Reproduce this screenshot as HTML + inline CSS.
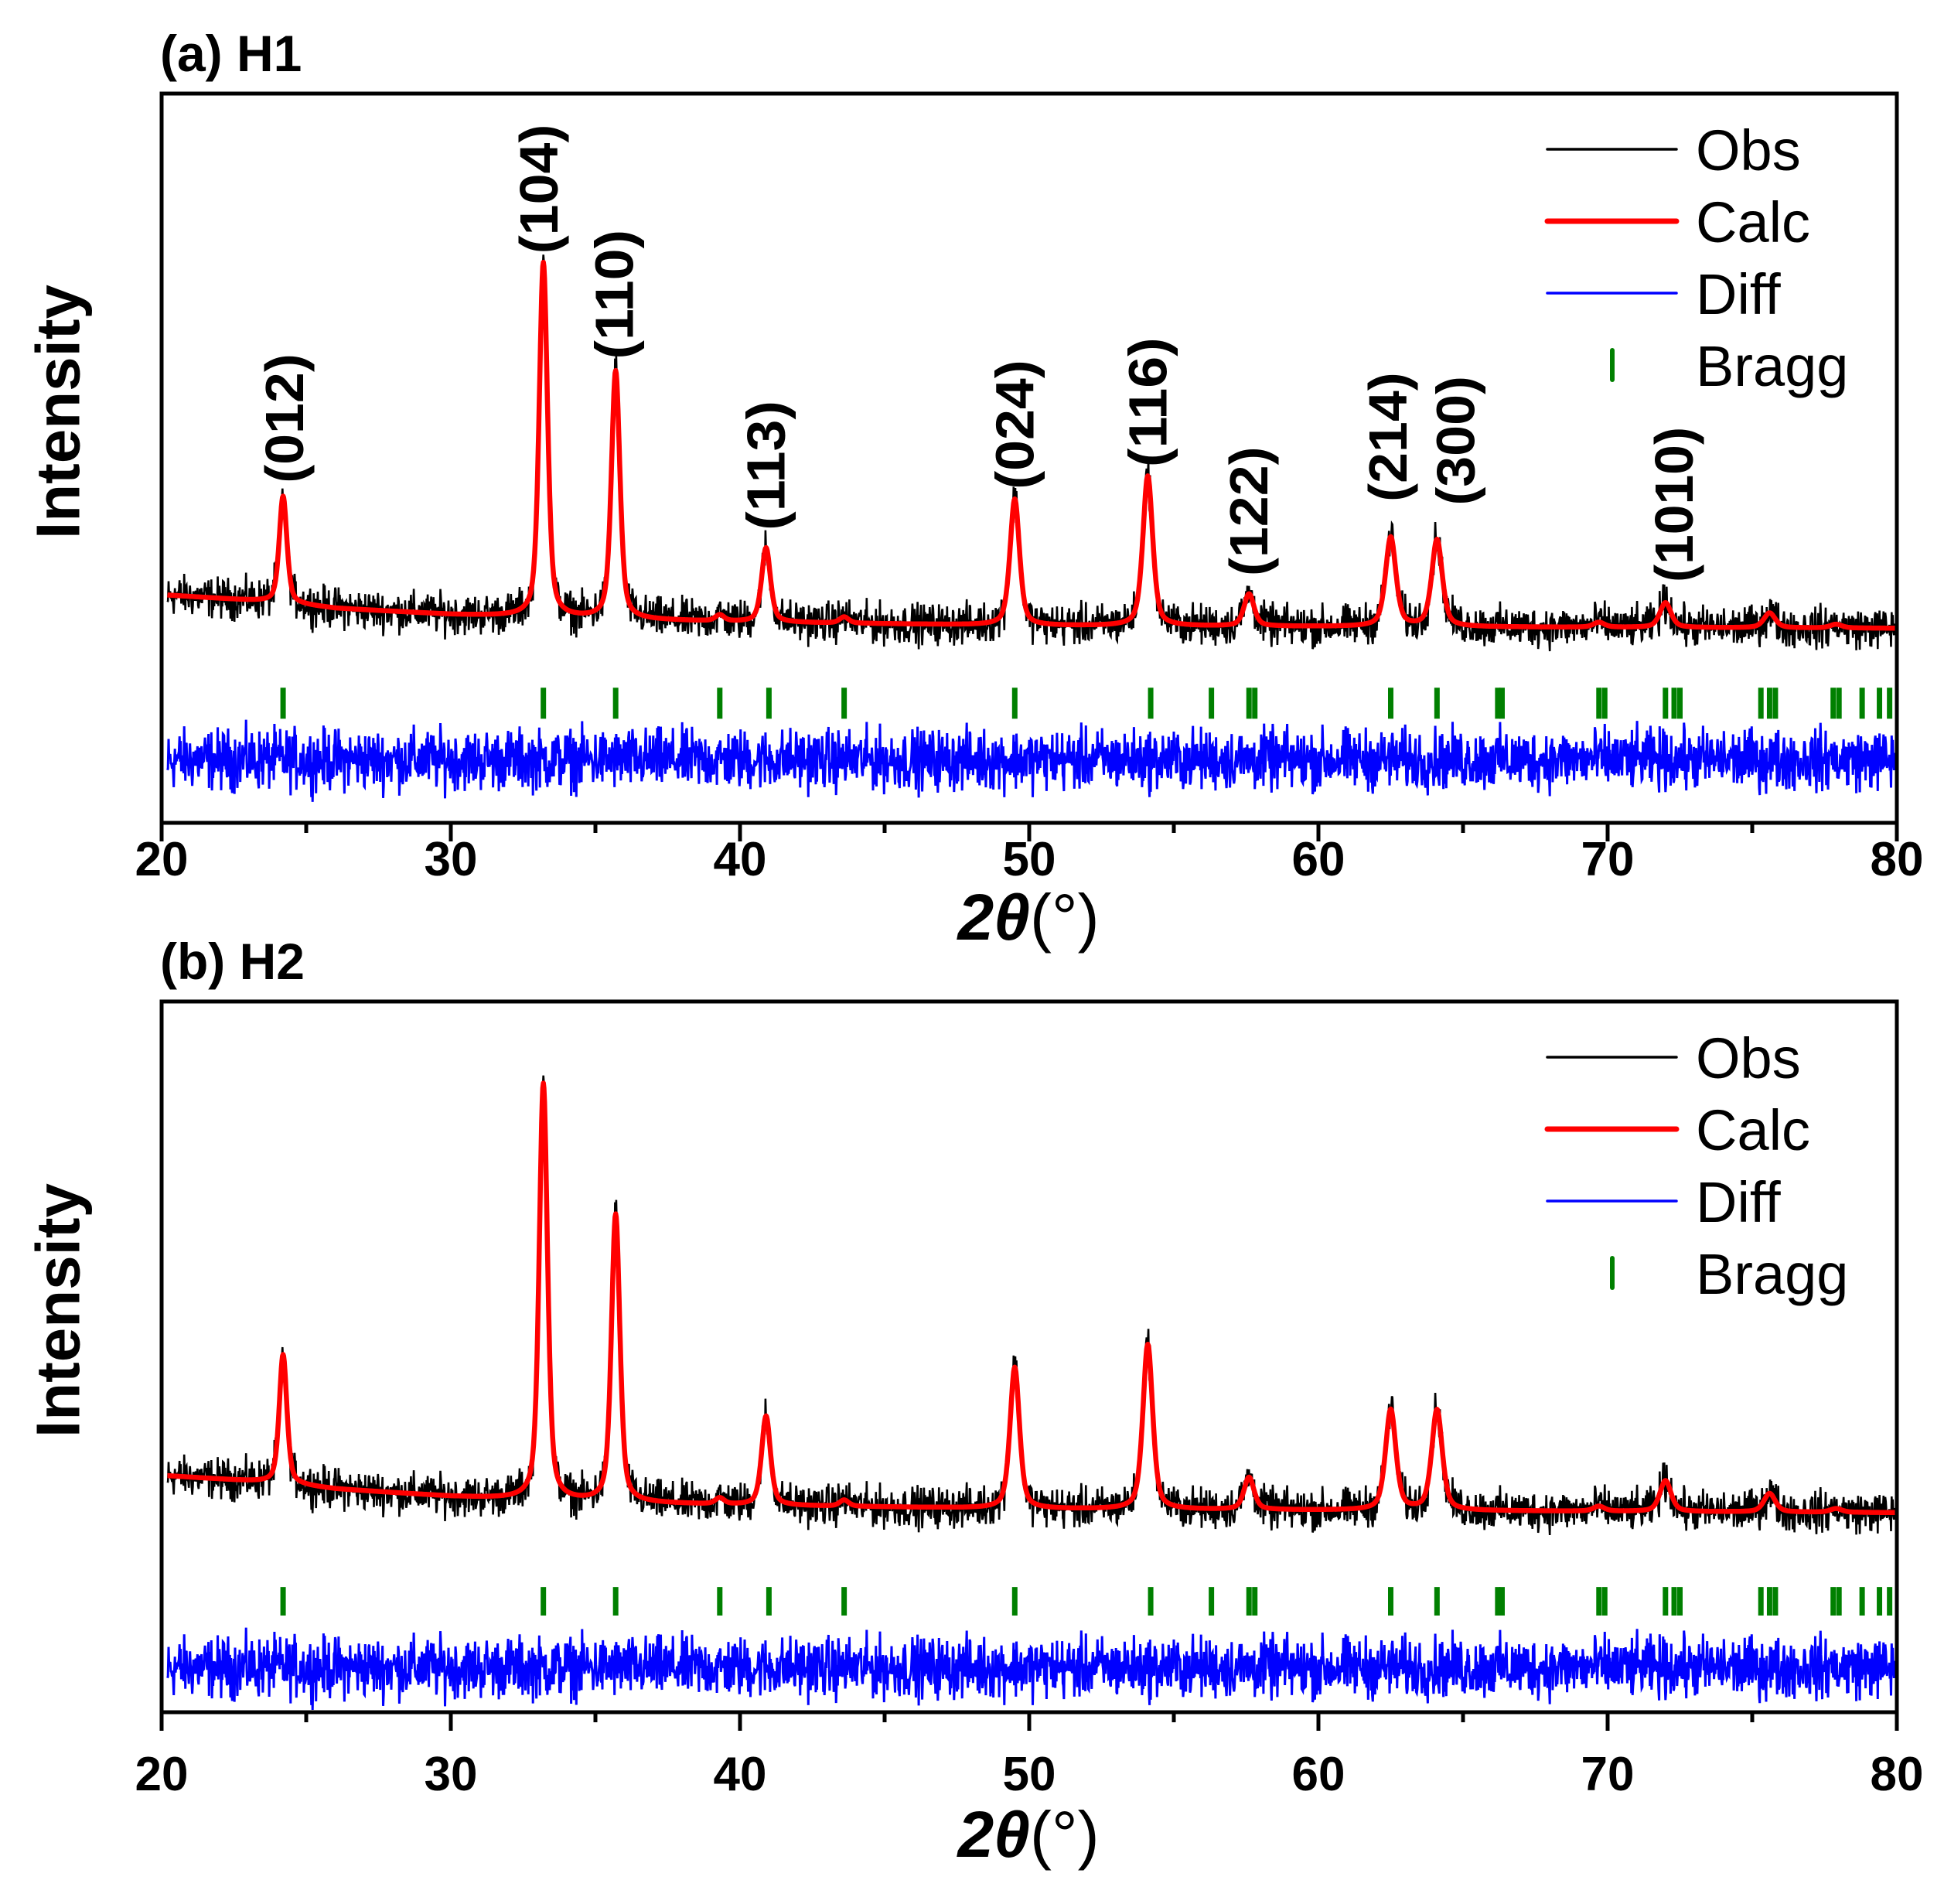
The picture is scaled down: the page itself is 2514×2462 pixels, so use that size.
<!DOCTYPE html>
<html><head><meta charset="utf-8"><style>
html,body{margin:0;padding:0;background:#fff;}
svg{display:block;font-family:"Liberation Sans",Arial,sans-serif;}
</style></head><body>
<svg id="chart" width="2514" height="2462" viewBox="0 0 2514 2462" xmlns="http://www.w3.org/2000/svg"></svg>
<script>
// ---- data ----
const xTicks = [20, 30, 40, 50, 60, 70, 80];
const xMinorTicks = [25, 35, 45, 55, 65, 75];
const braggPositions = [24.2, 33.2, 35.7, 39.3, 41.0, 43.6, 49.5, 54.2, 56.3, 57.6, 57.8, 62.5, 64.1, 66.2, 66.35, 69.7, 69.9, 72.0, 72.3, 72.5, 75.3, 75.6, 75.8, 77.8, 78.0, 78.8, 79.4, 79.75];
const peakPositions = [24.2, 33.2, 35.7, 39.3, 40.9, 43.6, 49.5, 54.1, 57.6, 62.5, 64.1, 69.7, 72.0, 75.6, 77.9];
const peakHeightsA = [86, 286, 200, 5, 60, 5, 102, 121, 26, 72, 70, 4, 20, 12, 3];
const peakHeightsB = [104, 336, 232, 5, 72, 5, 114, 133, 26, 81, 81, 4, 25, 15, 3];
const bgPositions = [20, 24, 26, 30, 34, 40, 50, 80];
const bgValuesA = [184, 178, 173, 168, 165, 162, 159, 157];
const bgValuesB = [191, 185, 180, 174, 170, 167, 164, 161];
const hklLabels = ["(012)", "(104)", "(110)", "(113)", "(024)", "(116)", "(122)", "(214)", "(300)", "(1010)"];
const hklPositions = [24.25, 33.05, 35.65, 40.9, 49.5, 54.1, 57.6, 62.4, 64.75, 72.3];
const hklLabelBase = [274, 459, 374, 236, 269, 287, 199, 259, 256, 194];
const diffCenterA = 51, diffCenterB = 36;
const braggRangeA = [84, 109], braggRangeB = [78, 101];

const svg = document.getElementById('chart');
const NS = 'http://www.w3.org/2000/svg';
function el(tag, attrs, parent) {
  const e = document.createElementNS(NS, tag);
  for (const k in attrs) e.setAttribute(k, attrs[k]);
  (parent || svg).appendChild(e);
  return e;
}
const X0 = 209, X1 = 2453;
const xScale = v => X0 + (v - 20) / 60 * (X1 - X0);

// deterministic noise texture
let seed = 12345;
function rnd() { seed = (seed * 1103515245 + 12345) % 2147483648; return seed / 2147483648; }
const noise = [];
for (let i = 0; i <= 3000; i++) noise.push((rnd() + rnd() + rnd() - 1.5) * 16);

function interpBg(x, vals) {
  for (let i = 0; i < bgPositions.length - 1; i++) {
    if (x <= bgPositions[i + 1]) {
      const t = (x - bgPositions[i]) / (bgPositions[i + 1] - bgPositions[i]);
      return vals[i] + t * (vals[i + 1] - vals[i]);
    }
  }
  return vals[vals.length - 1];
}
function calc(x, heights, bg) {
  let v = interpBg(x, bg);
  for (let i = 0; i < peakPositions.length; i++) {
    const w = 0.30 + 0.003 * (peakPositions[i] - 20);
    const d = (x - peakPositions[i]) / (w / 2);
    const L = 1 / (1 + d * d);
    const G = Math.exp(-0.693 * d * d);
    v += heights[i] * (0.5 * L + 0.5 * G);
  }
  return v;
}

function panel(name, top, bottom, heights, bg, diffC, braggR, title, titleY, tickLabelY, xTitleY, showHkl) {
  const g = el('g', {});
  
  
  const yUnit = 1.603;
  const yScale = v => bottom - v * yUnit;

  let obsD = '', calcD = '', diffD = '';
  for (let i = 10; i <= 3000; i++) {
    const x = 20 + i * 0.02;
    const c = calc(x, heights, bg);
    const o = c + noise[i];
    const px = xScale(x).toFixed(1);
    obsD += (i === 10 ? 'M' : 'L') + px + ',' + yScale(o).toFixed(1);
    calcD += (i === 10 ? 'M' : 'L') + px + ',' + yScale(c).toFixed(1);
    diffD += (i === 10 ? 'M' : 'L') + px + ',' + yScale(diffC + noise[i] * 1.5).toFixed(1);
  }
  const obs = el('path', {d: obsD, fill: 'none', stroke: '#000', 'stroke-width': 2.6}, g);
  
  
  const cl = el('path', {d: calcD, fill: 'none', stroke: '#ff0000', 'stroke-width': 6.5, 'stroke-linejoin': 'round'}, g);
  
  
  const df = el('path', {d: diffD, fill: 'none', stroke: '#0000ff', 'stroke-width': 3}, g);
  
  
  braggPositions.forEach(p => {
    const t = el('line', {x1: xScale(p), x2: xScale(p), y1: yScale(braggR[0]), y2: yScale(braggR[1]), stroke: '#008000', 'stroke-width': 7}, g);
    
    
  });

  const fr = el('rect', {x: X0, y: top, width: X1 - X0, height: bottom - top, fill: 'none', stroke: '#000', 'stroke-width': 5}, g);
  
  
  xTicks.forEach(t => {
    const l = el('line', {x1: xScale(t), x2: xScale(t), y1: bottom, y2: bottom + 24, stroke: '#000', 'stroke-width': 5}, g);
    
    
    const tx = el('text', {x: xScale(t), y: tickLabelY, 'text-anchor': 'middle', 'font-size': 62, 'font-weight': 'bold'}, g);
    tx.textContent = t;
    
    
  });
  xMinorTicks.forEach(t => {
    const l = el('line', {x1: xScale(t), x2: xScale(t), y1: bottom, y2: bottom + 13, stroke: '#000', 'stroke-width': 5}, g);
    
    
  });
  const tt = el('text', {x: 207, y: titleY, 'font-size': 66, 'font-weight': 'bold'}, g);
  tt.textContent = title;
  
  
  const yl = el('text', {transform: `translate(75,${(top + bottom) / 2 - 60}) rotate(-90)`, 'text-anchor': 'middle', 'dominant-baseline': 'central', 'font-size': 80, 'font-weight': 'bold', textLength: 329, lengthAdjust: 'spacingAndGlyphs'}, g);
  yl.textContent = 'Intensity';
  
  
  const xt = el('text', {x: 1330, y: xTitleY, 'text-anchor': 'middle', 'font-size': 84}, g);
  
  
  const t1 = el('tspan', {'font-weight': 'bold', 'font-style': 'italic'}, xt);
  t1.textContent = '2θ';
  const t2 = el('tspan', {}, xt);
  t2.textContent = '(°)';

  const leg = el('g', {}, g);
  
  
  const items = [['Obs', '#000', 3.5, 0], ['Calc', '#ff0000', 7, 1], ['Diff', '#0000ff', 3.5, 2]];
  const ly = top + 72;
  items.forEach(it => {
    const y = ly + it[3] * 93;
    const ln = el('line', {x1: 2001, x2: 2168, y1: y, y2: y, stroke: it[1], 'stroke-width': it[2], 'stroke-linecap': 'round'}, leg);
    
    
    const tx = el('text', {x: 2193, y: y + 27, 'font-size': 74}, leg);
    tx.textContent = it[0];
    
    
  });
  const by = ly + 3 * 93;
  const bl = el('line', {x1: 2085, x2: 2085, y1: by - 19, y2: by + 19, stroke: '#008000', 'stroke-width': 6, 'stroke-linecap': 'round'}, leg);
  
  
  const bt = el('text', {x: 2193, y: by + 27, 'font-size': 74}, leg);
  bt.textContent = 'Bragg';
  
  

  if (showHkl) {
    hklLabels.forEach((lab, i) => {
      const n = lab.length;
      const tx = el('text', {transform: `translate(${xScale(hklPositions[i])},${yScale(hklLabelBase[i])}) rotate(-90)`, 'dominant-baseline': 'central', 'font-size': 70, 'font-weight': 'bold', textLength: n * 33.5, lengthAdjust: 'spacingAndGlyphs'}, g);
      tx.textContent = lab;
      
      
    });
  }
}

panel('panel-a-h1', 121, 1064, peakHeightsA, bgValuesA, diffCenterA, braggRangeA, '(a) H1', 92, 1132, 1215, true);
panel('panel-b-h2', 1295, 2214, peakHeightsB, bgValuesB, diffCenterB, braggRangeB, '(b) H2', 1266, 2315, 2401, false);
</script>
</body></html>
